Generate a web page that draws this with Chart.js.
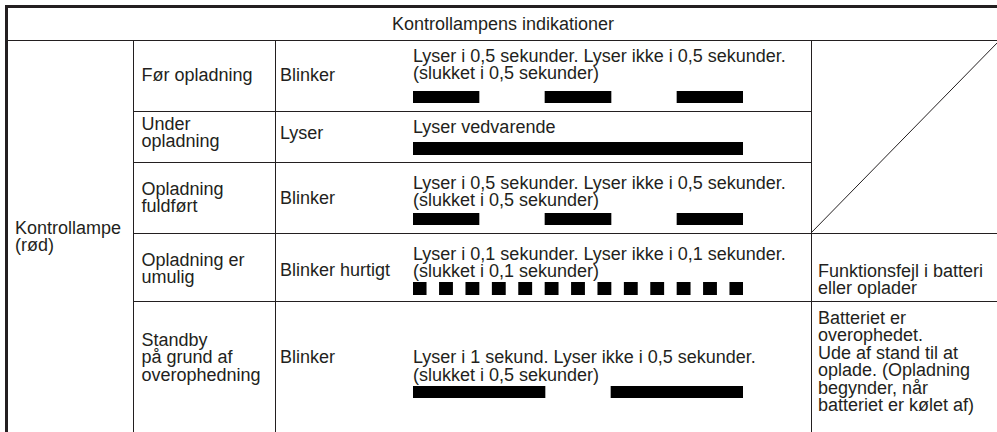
<!DOCTYPE html>
<html lang="da">
<head>
<meta charset="utf-8">
<title>Kontrollampens indikationer</title>
<script src="https://cdn.jsdelivr.net/npm/chart.js"></script>
<style>
  html, body { margin: 0; padding: 0; background: #fff; overflow: hidden; }
  body { width: 997px; height: 432px; position: relative; font-family: "Liberation Sans", Arial, Helvetica, sans-serif; font-size: 18px; color: #231f20; }
  .txt { position: absolute; white-space: pre; line-height: 17.5px; }
  .ln { position: absolute; background: #231f20; }
  canvas.lamp { position: absolute; }
  svg.diag { position: absolute; left: 0; top: 0; }
</style>
</head>
<body>
<svg class="diag" width="997" height="432"><line x1="811" y1="233" x2="1000" y2="40" stroke="#231f20" stroke-width="1"/></svg>
<script>
// Table text
const title = 'Kontrollampens indikationer';
const lampName = 'Kontrollampe\n(rød)';
const states = ['Før opladning', 'Under\nopladning', 'Opladning\nfuldført', 'Opladning er\numulig', 'Standby\npå grund af\noverophedning'];
const modes = ['Blinker', 'Lyser', 'Blinker', 'Blinker hurtigt', 'Blinker'];
const patternNotes = [
  'Lyser i 0,5 sekunder. Lyser ikke i 0,5 sekunder.\n(slukket i 0,5 sekunder)',
  'Lyser vedvarende',
  'Lyser i 0,5 sekunder. Lyser ikke i 0,5 sekunder.\n(slukket i 0,5 sekunder)',
  'Lyser i 0,1 sekunder. Lyser ikke i 0,1 sekunder.\n(slukket i 0,1 sekunder)',
  'Lyser i 1 sekund. Lyser ikke i 0,5 sekunder.\n(slukket i 0,5 sekunder)'
];
const remarks = ['', '', '', 'Funktionsfejl i batteri\neller oplader', 'Batteriet er\noverophedet.\nUde af stand til at\noplade. (Opladning\nbegynder, når\nbatteriet er kølet af)'];

// Lamp "on" intervals in seconds, one list per row
const timeRange = [0, 2.5];
const onBeforeCharging = [[0, 0.5], [1, 1.5], [2, 2.5]];
const onCharging = [[0, 2.5]];
const onChargeDone = [[0, 0.5], [1, 1.5], [2, 2.5]];
const onImpossible = [[0, 0.1], [0.2, 0.3], [0.4, 0.5], [0.6, 0.7], [0.8, 0.9], [1.0, 1.1], [1.2, 1.3],
  [1.4, 1.5], [1.6, 1.7], [1.8, 1.9], [2.0, 2.1], [2.2, 2.3], [2.4, 2.5]];
const onOverheat = [[0, 1], [1.5, 2.5]];
const onIntervals = [onBeforeCharging, onCharging, onChargeDone, onImpossible, onOverheat];

// Layout (pixels)
const lineY = [40, 111, 162, 233, 301];
const stateTop = [66.5, 115.5, 180.5, 251.5, 331.5];
const modeTop = [66.5, 124.5, 189.5, 261.5, 348.5];
const noteTop = [47.5, 118.5, 174.5, 245.5, 349];
const barTop = [91, 142, 213, 282, 386];
const barHeight = [12, 13, 12, 13, 12];
const remarkTop = [0, 0, 0, 262.5, 309.5];

function addText(str, x, y, extra) {
  const d = document.createElement('div');
  d.className = 'txt';
  d.textContent = str;
  d.style.left = x + 'px';
  d.style.top = y + 'px';
  if (extra) Object.assign(d.style, extra);
  document.body.appendChild(d);
}
function addLine(x, y, w, h) {
  const d = document.createElement('div');
  d.className = 'ln';
  d.style.left = x + 'px';
  d.style.top = y + 'px';
  d.style.width = w + 'px';
  d.style.height = h + 'px';
  document.body.appendChild(d);
}

// grid lines
addLine(5, 5, 995, 3);   // thick top
addLine(5, 5, 3, 430);   // thick left
addLine(6, lineY[0], 994, 1);
addLine(133, lineY[1], 678, 1);
addLine(133, lineY[2], 678, 1);
addLine(133, lineY[3], 867, 1);
addLine(133, lineY[4], 867, 1);
addLine(133, 40, 1, 395);
addLine(275, 40, 1, 395);
addLine(811, 40, 1, 395);

// texts
addText(title, 6, 15.5, { width: '994px', textAlign: 'center' });
addText(lampName, 15, 219.5);
states.forEach((s, i) => {
  addText(s, 141.5, stateTop[i]);
  addText(modes[i], 280, modeTop[i]);
  addText(patternNotes[i], 413, noteTop[i]);
  if (remarks[i]) addText(remarks[i], 818, remarkTop[i]);
});

// lamp timing bars
onIntervals.forEach((intervals, i) => {
  const c = document.createElement('canvas');
  c.className = 'lamp';
  c.width = 330;
  c.height = barHeight[i];
  c.style.left = '413px';
  c.style.top = barTop[i] + 'px';
  document.body.appendChild(c);
  new Chart(c, {
    type: 'bar',
    data: {
      labels: ['lampe'],
      datasets: intervals.map(iv => ({
        data: [iv],
        backgroundColor: '#000',
        borderWidth: 0,
        grouped: false,
        barPercentage: 1,
        categoryPercentage: 1
      }))
    },
    options: {
      indexAxis: 'y',
      responsive: false,
      animation: false,
      layout: { padding: 0 },
      scales: {
        x: { type: 'linear', min: timeRange[0], max: timeRange[1], display: false },
        y: { display: false }
      },
      plugins: { legend: { display: false }, tooltip: { enabled: false } }
    }
  });
});
</script>
</body>
</html>
